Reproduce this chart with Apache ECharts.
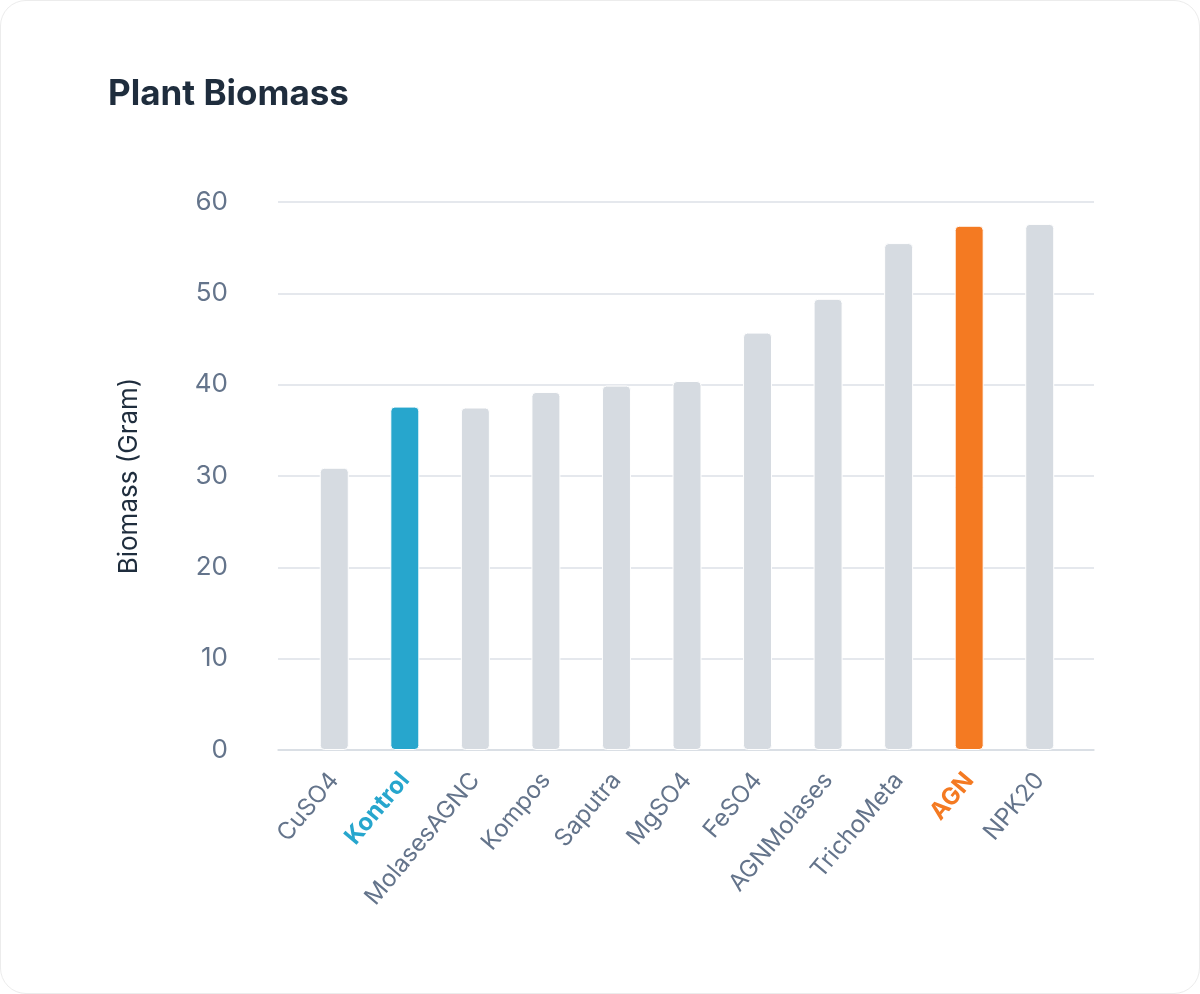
<!DOCTYPE html>
<html>
<head>
<meta charset="utf-8">
<script src="https://cdn.jsdelivr.net/npm/echarts@6/dist/echarts.min.js"></script>
<style>
  html, body { margin: 0; padding: 0; background: #ffffff; }
  #card {
    position: absolute; left: 0; top: 0;
    width: 1198px; height: 992px;
    border: 1px solid #ececec; border-radius: 26px;
    background: #ffffff;
  }
  #chart { width: 1200px; height: 994px; }
</style>
</head>
<body>
<div id="card"></div>
<div id="chart"></div>
<script>
// data
var categories = ['CuSO4', 'Kontrol', 'MolasesAGNC', 'Kompos', 'Saputra', 'MgSO4', 'FeSO4', 'AGNMolases', 'TrichoMeta', 'AGN', 'NPK20'];
var biomass = [30.9, 37.6, 37.5, 39.2, 39.9, 40.4, 45.7, 49.4, 55.5, 57.4, 57.6];
var yTicks = [0, 10, 20, 30, 40, 50, 60];

// warna sorotan
var baseColor = '#d6dbe1';
var highlight = { Kontrol: '#27a6cd', AGN: '#f47a22' };
var textColor = '#64748b';
var fontFamily = 'Inter, "Noto Sans", sans-serif';

var myChart = echarts.init(document.getElementById('chart'), null, { renderer: 'canvas' });

var barData = biomass.map(function (v, i) {
  var c = highlight[categories[i]] || baseColor;
  return { value: v, itemStyle: { color: c } };
});

var option = {
  animation: false,
  title: {
    text: 'Plant Biomass',
    left: 103,
    top: 72,
    textStyle: { fontFamily: fontFamily, fontSize: 35, fontWeight: 700, color: '#1f2d3d' }
  },
  grid: [
    { left: 278, right: 106, top: 202, bottom: 244 },
    { left: 299, right: 125, top: 202, bottom: 244 }
  ],
  xAxis: [
    {
      gridIndex: 0, type: 'category', data: [''],
      axisLine: { show: true, lineStyle: { color: '#d6dbe2', width: 1.5 } },
      axisTick: { show: false }, axisLabel: { show: false }
    },
    {
      gridIndex: 1, type: 'category', data: categories,
      axisLine: { show: false }, axisTick: { show: false },
      axisLabel: {
        rotate: 50, margin: 26, interval: 0,
        fontFamily: fontFamily, fontSize: 24, color: textColor,
        formatter: function (val) {
          if (val === 'Kontrol') return '{k|' + val + '}';
          if (val === 'AGN') return '{a|' + val + '}';
          return val;
        },
        rich: {
          k: { color: highlight.Kontrol, fontWeight: 700, fontSize: 24, fontFamily: fontFamily },
          a: { color: highlight.AGN, fontWeight: 700, fontSize: 24, fontFamily: fontFamily }
        }
      }
    }
  ],
  yAxis: [
    {
      gridIndex: 0, type: 'value', min: yTicks[0], max: yTicks[yTicks.length - 1], interval: 10,
      name: 'Biomass (Gram)', nameLocation: 'middle', nameGap: 136,
      nameTextStyle: { fontFamily: fontFamily, fontSize: 26, color: '#1f2d3d' },
      axisLine: { show: false }, axisTick: { show: false },
      axisLabel: { margin: 50, fontFamily: fontFamily, fontSize: 26, color: textColor },
      splitLine: { lineStyle: { color: '#dde1e7', width: 1.5 } }
    },
    {
      gridIndex: 1, type: 'value', min: yTicks[0], max: yTicks[yTicks.length - 1], interval: 10,
      show: false, splitLine: { show: false }
    }
  ],
  series: [{
    type: 'bar',
    xAxisIndex: 1, yAxisIndex: 1,
    barWidth: 29,
    data: barData,
    itemStyle: { borderRadius: 4, borderColor: '#ffffff', borderWidth: 1 }
  }]
};

myChart.setOption(option);
</script>
</body>
</html>
